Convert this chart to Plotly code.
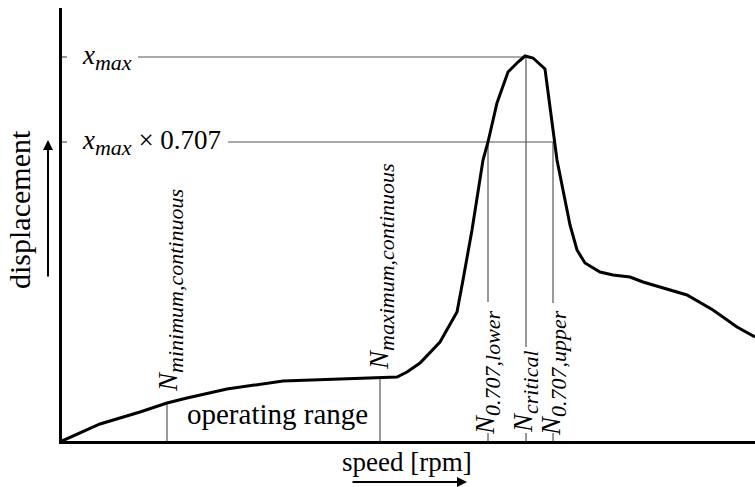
import plotly.graph_objects as go

# ---- data (speed / displacement, arbitrary units) ----
speed = [0, 38, 78, 105, 125, 165, 221, 318, 335, 345, 358, 378, 395, 401, 410, 421,
         426, 435, 446, 456, 463, 471, 483, 488, 493, 495, 508, 515, 523, 538, 551,
         568, 581, 625, 651, 675, 693]
displacement = [0, 17, 29, 38, 43, 52, 60, 63, 64, 69, 78, 99, 129, 161, 211, 281,
                299, 338, 369, 379, 385, 383, 372, 334, 299, 281, 216, 191, 178, 169,
                166, 164, 159, 146, 131, 114, 104]

x_max_level = 384
x_707_level = 299
n_min = 105
n_max = 318
n_lower = 426
n_crit = 464
n_upper = 491
disp_at_nmin = 38
disp_at_nmax = 63

X_RANGE = [0, 693]
Y_RANGE = [0, 433]

FONT = "Liberation Serif"
MAIN = 27
GRAY = "#555555"

fig = go.Figure()

def seg(x0, y0, x1, y1, color=GRAY, width=1.2):
    fig.add_trace(go.Scatter(x=[x0, x1], y=[y0, y1], mode="lines",
                             line=dict(color=color, width=width),
                             hoverinfo="skip", showlegend=False))

# reference horizontal lines
seg(0, x_max_level, 5, x_max_level)
seg(76, x_max_level, n_crit, x_max_level)
seg(0, x_707_level, 5, x_707_level)
seg(166, x_707_level, n_upper, x_707_level)

# vertical markers
seg(n_min, 0, n_min, disp_at_nmin)
seg(n_max, 0, n_max, disp_at_nmax)
seg(n_lower, x_707_level, n_lower, 139)
seg(n_lower, 0, n_lower, 8)
seg(n_crit, x_max_level, n_crit, 94)
seg(n_crit, 0, n_crit, 8)
seg(n_upper, x_707_level, n_upper, 138)
seg(n_upper, 0, n_upper, 8)

# main curve
fig.add_trace(go.Scatter(x=speed, y=displacement, mode="lines",
                         line=dict(color="black", width=3),
                         hoverinfo="skip", showlegend=False))

def sub(base, s):
    return f'<i>{base}<sub><span style="font-size:22px">{s}</span></sub></i>'

ann = []
def label(text, x, y, angle=0, xanchor="center", size=MAIN):
    ann.append(dict(text=text, x=x, y=y, xref="x", yref="y", showarrow=False,
                    textangle=angle, xanchor=xanchor, yanchor="middle",
                    font=dict(family=FONT, size=size, color="black")))

label(sub("x", "max"), 18, x_max_level, xanchor="left")
label(sub("x", "max") + " × 0.707", 18, x_707_level, xanchor="left")
label(sub("N", "minimum,continuous"), 108, 150, angle=-90)
label(sub("N", "maximum,continuous"), n_max + 1, 174, angle=-90)
label(sub("N", "0.707,lower"), n_lower - 1, 68, angle=-90)
label(sub("N", "critical"), n_crit - 1, 49, angle=-90)
label(sub("N", "0.707,upper"), n_upper + 0, 68, angle=-90)
label("operating range", 215, 27, size=29)

W, H = 755, 487
ann.append(dict(text="displacement", x=20 / W, y=(H - 210) / H, xref="paper", yref="paper",
                showarrow=False, textangle=-90, xanchor="center", yanchor="middle",
                font=dict(family=FONT, size=30, color="black")))
ann.append(dict(text="speed [rpm]", x=407 / W, y=(H - 462) / H, xref="paper", yref="paper",
                showarrow=False, xanchor="center", yanchor="middle",
                font=dict(family=FONT, size=MAIN, color="black")))
# arrows
ann.append(dict(text="", x=48 / W, y=(H - 140) / H, xref="paper", yref="paper",
                ax=0, ay=138, axref="pixel", ayref="pixel", showarrow=True,
                arrowhead=2, arrowsize=1, arrowwidth=2, arrowcolor="black"))
ann.append(dict(text="", x=467 / W, y=(H - 482) / H, xref="paper", yref="paper",
                ax=-116, ay=0, axref="pixel", ayref="pixel", showarrow=True,
                arrowhead=2, arrowsize=1, arrowwidth=2, arrowcolor="black"))

fig.update_layout(
    width=W, height=H,
    margin=dict(l=0, r=0, t=0, b=0),
    paper_bgcolor="white", plot_bgcolor="white",
    annotations=ann,
    xaxis=dict(domain=[62 / W, 1], range=X_RANGE, showgrid=False, zeroline=False,
               showticklabels=False, ticks="", showline=True, linewidth=3, linecolor="black"),
    yaxis=dict(domain=[(H - 441) / H, (H - 8) / H], range=Y_RANGE, showgrid=False,
               zeroline=False, showticklabels=False, ticks="", showline=True,
               linewidth=3, linecolor="black"),
)

fig.write_html("out.html")
